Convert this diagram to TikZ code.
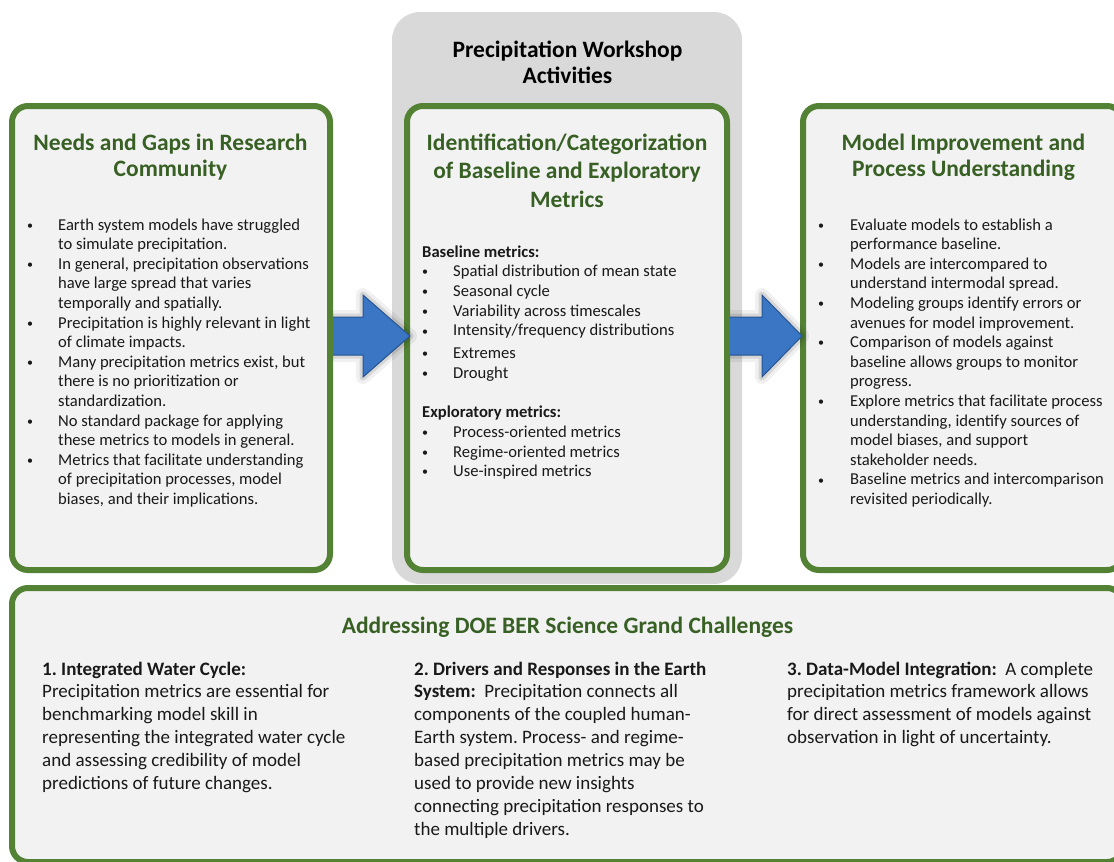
\documentclass[tikz,border=0pt]{standalone}
\usepackage{fontspec}
\setmainfont{Carlito}
\usetikzlibrary{calc}
\definecolor{boxgreen}{RGB}{84,130,53}
\definecolor{titlegreen}{RGB}{56,96,36}
\definecolor{boxfill}{RGB}{242,242,242}
\definecolor{graybg}{RGB}{217,217,217}
\definecolor{arrowblue}{RGB}{58,118,196}
\definecolor{arrowedge}{RGB}{38,84,146}
\definecolor{textdark}{RGB}{25,25,25}
\frenchspacing
\newcommand\bdot{{\fontsize{12}{12}\selectfont\raisebox{0.8pt}{\textbullet}}}

\newcommand\blockarrow[4]{% x0, xh, xt, yc
  \begin{scope}
    \clip (#1,0) rectangle (1114,862);
    \draw[black,opacity=.06,line width=14pt,line join=round] (#1,#4-19) -- (#2,#4-19) -- (#2,#4-41) -- (#3,#4) -- (#2,#4+41) -- (#2,#4+19) -- (#1,#4+19) -- cycle;
    \draw[black,opacity=.10,line width=7pt,line join=round] (#1,#4-19) -- (#2,#4-19) -- (#2,#4-41) -- (#3,#4) -- (#2,#4+41) -- (#2,#4+19) -- (#1,#4+19) -- cycle;
  \end{scope}
  \fill[arrowblue] (#1,#4-19) -- (#2,#4-19) -- (#2,#4-41) -- (#3,#4) -- (#2,#4+41) -- (#2,#4+19) -- (#1,#4+19) -- cycle;
  \draw[arrowedge,line width=1pt,line join=miter] (#1,#4-19) -- (#2,#4-19) -- (#2,#4-41) -- (#3,#4) -- (#2,#4+41) -- (#2,#4+19) -- (#1,#4+19);
}

\begin{document}
\begin{tikzpicture}[x=1pt,y=-1pt,
  panel/.style={draw=boxgreen,line width=6pt,fill=boxfill,rounded corners=16pt,inner sep=0pt},
  ttl/.style={font=\bfseries\fontsize{23.5}{26}\selectfont,text=titlegreen,anchor=base,inner sep=0pt},
  body/.style={font=\fontsize{16.6}{19.6}\selectfont,text=textdark,anchor=base west,inner sep=0pt},
  lower/.style={font=\fontsize{19}{22.9}\selectfont,text=textdark,anchor=base west,inner sep=0pt}]
\clip (0,0) rectangle (1114,862);
\fill[white] (0,0) rectangle (1114,862);

% gray workshop background
\node[fill=graybg,rounded corners=28pt,minimum width=350pt,minimum height=572pt,inner sep=0pt] (workshop) at (567,298) {};
\node[font=\bfseries\fontsize{23.5}{26}\selectfont,text=black,anchor=base,inner sep=0pt] (workshoptitle) at (567.5,57)
  {\begin{tabular}[t]{@{}c@{}}Precipitation Workshop\\Activities\end{tabular}};

% three panels
\node[panel,minimum width=318pt,minimum height=464pt] (needs) at (171,338) {};
\node[panel,minimum width=320pt,minimum height=464pt] (metrics) at (567,338) {};
\node[panel,minimum width=320pt,minimum height=464pt] (improve) at (963,338) {};
% bottom panel
\node[panel,minimum width=1111pt,minimum height=274pt] (grand) at (567.5,725) {};

% block arrows
\blockarrow{333}{363}{410}{336}
\blockarrow{730}{762}{802}{336}

% titles
\node[ttl] (needstitle) at (170.5,150) {\begin{tabular}[t]{@{}c@{}}Needs and Gaps in Research\\Community\end{tabular}};
\node[ttl,font=\bfseries\fontsize{23.5}{28.5}\selectfont] (metricstitle) at (567,150) {\begin{tabular}[t]{@{}c@{}}Identification/Categorization\\of Baseline and Exploratory\\Metrics\end{tabular}};
\node[ttl] (improvetitle) at (963.5,150) {\begin{tabular}[t]{@{}c@{}}Model Improvement and\\Process Understanding\end{tabular}};
\node[ttl] (grandtitle) at (567.5,633) {Addressing DOE BER Science Grand Challenges};

% left body
\node[body] (needsbody) at (27,230) {\begin{tabular}[t]{@{}p{31pt}@{}l@{}}
\bdot & Earth system models have struggled\\
 & to simulate precipitation.\\
\bdot & In general, precipitation observations\\
 & have large spread that varies\\
 & temporally and spatially.\\
\bdot & Precipitation is highly relevant in light\\
 & of climate impacts.\\
\bdot & Many precipitation metrics exist, but\\
 & there is no prioritization or\\
 & standardization.\\
\bdot & No standard package for applying\\
 & these metrics to models in general.\\
\bdot & Metrics that facilitate understanding\\
 & of precipitation processes, model\\
 & biases, and their implications.
\end{tabular}};

% middle body
\node[body,font=\fontsize{16.6}{19.7}\selectfont] (metricsbody) at (422,257) {\begin{tabular}[t]{@{}p{31pt}@{}l@{}}
\multicolumn{2}{@{}l@{}}{\textbf{Baseline metrics:}}\\
\bdot & Spatial distribution of mean state\\
\bdot & Seasonal cycle\\
\bdot & Variability across timescales\\
\bdot & Intensity/frequency distributions\\[3pt]
\bdot & Extremes\\
\bdot & Drought\\
 & \\
\multicolumn{2}{@{}l@{}}{\textbf{Exploratory metrics:}}\\
\bdot & Process-oriented metrics\\
\bdot & Regime-oriented metrics\\
\bdot & Use-inspired metrics
\end{tabular}};

% right body
\node[body] (improvebody) at (818,230) {\begin{tabular}[t]{@{}p{32pt}@{}l@{}}
\bdot & Evaluate models to establish a\\
 & performance baseline.\\
\bdot & Models are intercompared to\\
 & understand intermodal spread.\\
\bdot & Modeling groups identify errors or\\
 & avenues for model improvement.\\
\bdot & Comparison of models against\\
 & baseline allows groups to monitor\\
 & progress.\\
\bdot & Explore metrics that facilitate process\\
 & understanding, identify sources of\\
 & model biases, and support\\
 & stakeholder needs.\\
\bdot & Baseline metrics and intercomparison\\
 & revisited periodically.
\end{tabular}};

% bottom columns
\node[lower] (water) at (42,675) {\begin{tabular}[t]{@{}l@{}}
\textbf{1. Integrated Water Cycle:}\\
Precipitation metrics are essential for\\
benchmarking model skill in\\
representing the integrated water cycle\\
and assessing credibility of model\\
predictions of future changes.
\end{tabular}};
\node[lower] (drivers) at (414,675) {\begin{tabular}[t]{@{}l@{}}
\textbf{2. Drivers and Responses in the Earth}\\
\textbf{System:}\ \ Precipitation connects all\\
components of the coupled human-\\
Earth system. Process- and regime-\\
based precipitation metrics may be\\
used to provide new insights\\
connecting precipitation responses to\\
the multiple drivers.
\end{tabular}};
\node[lower] (datamodel) at (787,675) {\begin{tabular}[t]{@{}l@{}}
\textbf{3. Data-Model Integration:}\ \ A complete\\
precipitation metrics framework allows\\
for direct assessment of models against\\
observation in light of uncertainty.
\end{tabular}};
\end{tikzpicture}
\end{document}
